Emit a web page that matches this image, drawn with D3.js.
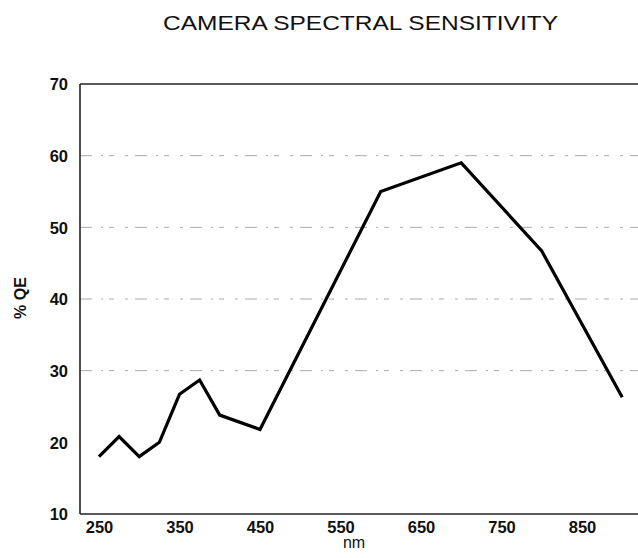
<!DOCTYPE html>
<html>
<head>
<meta charset="utf-8">
<script src="https://cdn.jsdelivr.net/npm/d3@7"></script>
<style>
  body { margin: 0; background: #fff; }
  text { font-family: "Liberation Sans", Arial, sans-serif; fill: #111; }
</style>
</head>
<body>
<div id="chart"></div>
<script>
// Data
const wavelengths = [250, 275, 300, 325, 350, 375, 400, 450, 600, 700, 800, 900];
const qe = [18, 20.8, 18, 20, 26.7, 28.7, 23.8, 21.8, 55, 59, 46.7, 26.3];
const xTicks = [250, 350, 450, 550, 650, 750, 850];
const yTicks = [10, 20, 30, 40, 50, 60, 70];
const gridValues = [30, 40, 50, 60];

const width = 638, height = 558;
const margin = { top: 84, right: 0, bottom: 44, left: 80 };

const svg = d3.select("#chart")
    .append("svg")
    .attr("width", width)
    .attr("height", height);

// Scales
const x = d3.scaleLinear()
    .domain([226.4, 919.6])
    .range([margin.left, width - margin.right]);

const y = d3.scaleLinear()
    .domain([10, 70])
    .range([height - margin.bottom, margin.top]);

// Title
svg.append("text")
    .attr("x", 163)
    .attr("y", 30)
    .attr("textLength", 395)
    .attr("lengthAdjust", "spacingAndGlyphs")
    .style("font-size", "21px")
    .text("CAMERA SPECTRAL SENSITIVITY");

// Faint broken gridlines
svg.append("g")
    .selectAll("line")
    .data(gridValues)
    .enter()
    .append("line")
    .attr("x1", margin.left)
    .attr("x2", width)
    .attr("y1", d => y(d))
    .attr("y2", d => y(d))
    .attr("stroke", "#aaa")
    .attr("stroke-width", 1)
    .attr("stroke-dasharray", "12,9,2,6,5,11,3,7");

// Frame: left, top and bottom lines
const frame = svg.append("g").attr("stroke", "#222").attr("stroke-width", 1.6);
frame.append("line")
    .attr("x1", x.range()[0]).attr("x2", x.range()[0])
    .attr("y1", y(70)).attr("y2", y(10));
frame.append("line")
    .attr("x1", x.range()[0]).attr("x2", width)
    .attr("y1", y(70)).attr("y2", y(70));
frame.append("line")
    .attr("x1", x.range()[0]).attr("x2", width)
    .attr("y1", y(10)).attr("y2", y(10));

// Y axis labels
svg.append("g")
    .attr("transform", `translate(${margin.left},0)`)
    .call(d3.axisLeft(y).tickValues(yTicks).tickSize(0).tickPadding(12))
    .call(g => g.select(".domain").remove())
    .selectAll("text")
    .attr("dy", "0.36em")
    .style("font-size", "16.5px")
    .style("font-weight", "bold")
    .style("font-family", "'Liberation Sans', Arial, sans-serif");

// X axis labels
svg.append("g")
    .attr("transform", `translate(0,${y(10)})`)
    .call(d3.axisBottom(x).tickValues(xTicks).tickSize(0).tickPadding(7))
    .call(g => g.select(".domain").remove())
    .selectAll("text")
    .style("font-size", "16.5px")
    .style("font-weight", "bold")
    .style("font-family", "'Liberation Sans', Arial, sans-serif");

// Axis titles
svg.append("text")
    .attr("x", 354)
    .attr("y", 548)
    .attr("text-anchor", "middle")
    .style("font-size", "16px")
    .text("nm");

svg.append("text")
    .attr("transform", "translate(26,298) rotate(-90)")
    .attr("text-anchor", "middle")
    .style("font-size", "16px")
    .style("font-weight", "bold")
    .text("% QE");

// Sensitivity curve
const line = d3.line()
    .x((d, i) => x(wavelengths[i]))
    .y(d => y(d));

svg.append("path")
    .datum(qe)
    .attr("fill", "none")
    .attr("stroke", "#000")
    .attr("stroke-width", 3.2)
    .attr("stroke-linejoin", "miter")
    .attr("d", line);
</script>
</body>
</html>
